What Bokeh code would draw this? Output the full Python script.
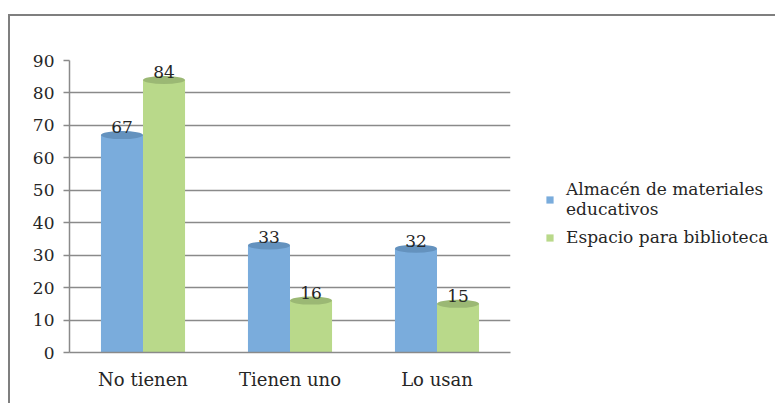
from bokeh.plotting import figure
from bokeh.layouts import row
from bokeh.models import ColumnDataSource, FactorRange, Range1d, Legend, LegendItem, FixedTicker
from bokeh.transform import dodge
from bokeh.core.properties import value
from bokeh.embed import file_html
from bokeh.resources import INLINE

categories = ["No tienen", "Tienen uno", "Lo usan"]
almacen = [67, 33, 32]
espacio = [84, 16, 15]
series_names = ["Almacén de materiales\neducativos", "Espacio para biblioteca"]
y_ticks = [0, 10, 20, 30, 40, 50, 60, 70, 80, 90]

BLUE = "#7aacdc"
BLUE_TOP = "#6492be"
GREEN = "#b9d98a"
GREEN_TOP = "#9bb874"
GRAY = "#8a8a8a"
TXT = "#262626"
FONT = "DejaVu Serif"

source = ColumnDataSource(dict(
    cat=categories,
    almacen=almacen,
    espacio=espacio,
    almacen_lbl=[str(v) for v in almacen],
    espacio_lbl=[str(v) for v in espacio],
))

H = 387

p = figure(
    x_range=FactorRange(*categories, range_padding=0),
    y_range=Range1d(0, 90),
    width=510, height=H,
    output_backend="svg", toolbar_location=None,
    min_border_left=59, min_border_right=10, min_border_top=44, min_border_bottom=51,
)
p.outline_line_color = None
p.background_fill_color = "white"
p.border_fill_color = "white"

bw = 0.286
off = 0.143

p.vbar(x=dodge("cat", -off, range=p.x_range), top="almacen", width=bw, source=source,
       fill_color=BLUE, line_color=None)
p.vbar(x=dodge("cat", off, range=p.x_range), top="espacio", width=bw, source=source,
       fill_color=GREEN, line_color=None)
p.ellipse(x=dodge("cat", -off, range=p.x_range), y="almacen", width=bw, height=8,
          height_units="screen", source=source, fill_color=BLUE_TOP, line_color=None)
p.ellipse(x=dodge("cat", off, range=p.x_range), y="espacio", width=bw, height=8,
          height_units="screen", source=source, fill_color=GREEN_TOP, line_color=None)

for col, lbl, o in (("almacen", "almacen_lbl", -off), ("espacio", "espacio_lbl", off)):
    p.text(x=dodge("cat", o, range=p.x_range), y=col, text=lbl, source=source,
           text_align="center", text_baseline="alphabetic", y_offset=-8,
           text_font=value(FONT), text_font_size="17px", text_color=TXT)

# axes
p.yaxis.ticker = FixedTicker(ticks=y_ticks)
p.yaxis.axis_line_color = GRAY
p.yaxis.axis_line_width = 1.5
p.yaxis.major_tick_line_color = GRAY
p.yaxis.major_tick_line_width = 1.5
p.yaxis.major_tick_out = 6
p.yaxis.major_tick_in = 0
p.yaxis.minor_tick_line_color = None
p.yaxis.major_label_standoff = 9
p.yaxis.major_label_text_font = FONT
p.yaxis.major_label_text_font_size = "17px"
p.yaxis.major_label_text_color = TXT

p.xaxis.axis_line_color = GRAY
p.xaxis.axis_line_width = 1.5
p.xaxis.major_tick_line_color = None
p.xaxis.major_tick_out = 0
p.xaxis.major_label_standoff = 16
p.xaxis.major_label_text_font = FONT
p.xaxis.major_label_text_font_size = "18px"
p.xaxis.major_label_text_color = TXT

p.xgrid.grid_line_color = None
p.ygrid.grid_line_color = GRAY
p.ygrid.grid_line_width = 1.5

# legend panel (series keys; zero-width bars outside the panel's range)
pl = figure(width=255, height=H, x_range=Range1d(0, 1), y_range=Range1d(0, 1),
            output_backend="svg", toolbar_location=None,
            x_axis_location=None, y_axis_location=None,
            min_border_left=0, min_border_right=0, min_border_top=0, min_border_bottom=0)
pl.outline_line_color = None
pl.xgrid.grid_line_color = None
pl.ygrid.grid_line_color = None
pl.background_fill_color = "white"
pl.border_fill_color = "white"
k1 = pl.vbar(x="almacen", top="almacen", width=0, source=source, fill_color=BLUE, line_color=None)
k2 = pl.vbar(x="espacio", top="espacio", width=0, source=source, fill_color=GREEN, line_color=None)

legend = Legend(items=[LegendItem(label=series_names[0], renderers=[k1], index=0),
                       LegendItem(label=series_names[1], renderers=[k2], index=0)],
                location=(25, 105))
legend.background_fill_alpha = 0
legend.border_line_color = None
legend.padding = 0
legend.margin = 0
legend.spacing = 8
legend.glyph_width = 9
legend.glyph_height = 9
legend.label_standoff = 12
legend.label_text_font = FONT
legend.label_text_font_size = "17px"
legend.label_text_color = TXT
pl.add_layout(legend, "center")

layout = row(p, pl, styles={"margin-left": "8px", "margin-top": "14px",
                            "border-left": "2px solid #7f7f7f",
                            "border-top": "2px solid #7f7f7f"})

open("out.html", "w").write(file_html(layout, INLINE))
